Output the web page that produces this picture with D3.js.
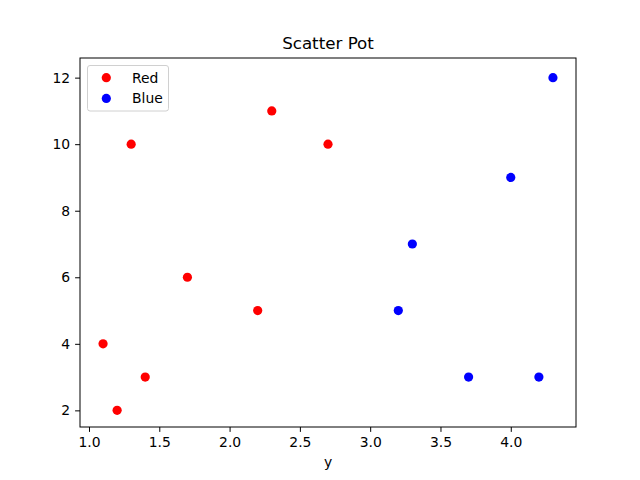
<!DOCTYPE html>
<html><head><meta charset="utf-8">
<script src="https://cdn.jsdelivr.net/npm/d3@7"></script>
<style>body{margin:0;background:#fff}svg{display:block}text{font-family:"DejaVu Sans",sans-serif;fill:#000}</style>
</head><body>
<svg id="c" width="640" height="480"></svg>
<script>
const redX = [1.1, 1.2, 1.3, 1.4, 1.7, 2.2, 2.3, 2.7];
const redY = [4, 2, 10, 3, 6, 5, 11, 10];
const blueX = [3.2, 3.3, 3.7, 4.0, 4.2, 4.3];
const blueY = [5, 7, 3, 9, 3, 12];
const xTicks = [1.0, 1.5, 2.0, 2.5, 3.0, 3.5, 4.0];
const yTicks = [2, 4, 6, 8, 10, 12];
const seriesNames = ["Red", "Blue"];
const seriesColors = ["#ff0000", "#0000ff"];

const svg = d3.select("#c");
const L = 80, R = 576, T = 58, B = 427;
const x = d3.scaleLinear().domain([0.936, 4.464]).range([L, R]);
const y = d3.scaleLinear().domain([1.5, 12.59]).range([B, T]);

const xAxis = svg.append("g").attr("transform", `translate(0,${B})`)
  .call(d3.axisBottom(x).tickValues(xTicks).tickFormat(d3.format(".1f")).tickSize(4.9).tickPadding(4.9));
const yAxis = svg.append("g").attr("transform", `translate(${L},0)`)
  .call(d3.axisLeft(y).tickValues(yTicks).tickFormat(d3.format("d")).tickSize(4.9).tickPadding(4.9));
[xAxis, yAxis].forEach(a => {
  a.select(".domain").remove();
  a.selectAll("text").attr("font-size", "13.9px").attr("font-family", "DejaVu Sans");
  a.selectAll("line").attr("stroke", "#000").attr("stroke-width", 1);
});

const series = [
  {name: seriesNames[0], color: seriesColors[0], xs: redX, ys: redY},
  {name: seriesNames[1], color: seriesColors[1], xs: blueX, ys: blueY}
];
series.forEach(s => {
  svg.append("g").selectAll("circle").data(s.xs.map((v, i) => [v, s.ys[i]])).join("circle")
    .attr("cx", d => x(d[0])).attr("cy", d => y(d[1])).attr("r", 4.6).attr("fill", s.color);
});

svg.append("rect").attr("x", L).attr("y", T).attr("width", R - L).attr("height", B - T)
  .attr("fill", "none").attr("stroke", "#000").attr("stroke-width", 1);

svg.append("text").attr("x", (L + R) / 2).attr("y", 49).attr("text-anchor", "middle")
  .attr("font-size", "16.7px").text("Scatter Pot");
svg.append("text").attr("x", (L + R) / 2).attr("y", 467).attr("text-anchor", "middle")
  .attr("font-size", "13.9px").text("y");

const lg = svg.append("g");
lg.append("rect").attr("x", 87.5).attr("y", 65.5).attr("width", 81).attr("height", 45.5).attr("rx", 2.5)
  .attr("fill", "#fff").attr("fill-opacity", 0.8).attr("stroke", "#d0d0d0").attr("stroke-width", 1);
series.forEach((s, i) => {
  const cy = 77.7 + i * 20.7;
  lg.append("circle").attr("cx", 106.3).attr("cy", cy).attr("r", 4.6).attr("fill", s.color);
  lg.append("text").attr("x", 132).attr("y", cy + 5).attr("font-size", "13.9px").text(s.name);
});
</script>
</body></html>
